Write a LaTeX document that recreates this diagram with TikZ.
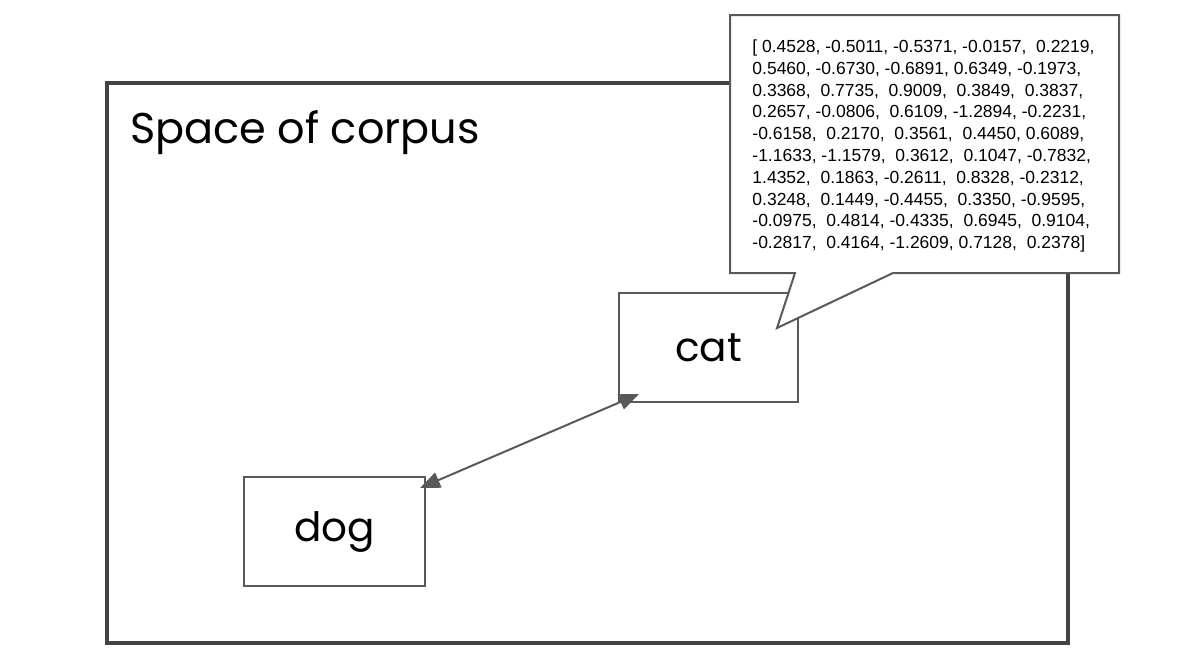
\documentclass[tikz,border=0pt]{standalone}
\usepackage{fontspec}
\setmainfont{Liberation Sans}
\newfontfamily\titlefont{Poppins}
\usetikzlibrary{arrows.meta,calc}
\definecolor{framec}{HTML}{434343}
\definecolor{boxc}{HTML}{595959}
\begin{document}
\begin{tikzpicture}[x=1pt,y=-1pt,
  wordbox/.style={draw=boxc,line width=2pt,inner sep=0pt,minimum height=109pt,
    font=\titlefont\fontsize{40.5}{48}\selectfont},
  link/.style={draw=boxc,line width=2pt,{Triangle[length=20pt,width=16pt]}-{Triangle[length=20pt,width=16pt]}},
  callout/.style={draw=boxc,fill=white,line width=2pt,line join=miter},
  vecbox/.style={inner sep=0pt,align=left,font=\fontsize{17.5}{21.8}\selectfont}]
\useasboundingbox (0,0) rectangle (1194,664);
\node[draw=framec,line width=4pt,minimum width=961pt,minimum height=560pt,inner sep=0pt] (frame) at (587.5,363) {};
\node[anchor=base west,inner sep=0pt,font=\titlefont\fontsize{43}{50}\selectfont] (title) at (130,143) {Space of corpus};
\node[wordbox,minimum width=179pt] (cat) at (708.5,347.5) {cat};
\node[wordbox,minimum width=181pt] (dog) at (334.5,531.5) {dog};
\draw[link] ($(dog.north east)+(-6,12)$) -- ($(cat.south west)+(21,-9)$);
\coordinate (cnw) at (730,15);
\coordinate (cne) at (1119,15);
\coordinate (cse) at (1119,273);
\coordinate (csw) at (730,273);
\coordinate (pr) at (893,273);
\coordinate (pl) at (795,273);
\coordinate (tip) at (777,328);
\draw[callout] (cnw) -- (cne) -- (cse) -- (pr) -- (tip) -- (pl) -- (csw) -- cycle;
\node[vecbox] (vec) at (923.5,146) {[ 0.4528, -0.5011, -0.5371, -0.0157,~ 0.2219,\\
0.5460, -0.6730, -0.6891, 0.6349, -0.1973,\\
0.3368,~ 0.7735,~ 0.9009,~ 0.3849,~ 0.3837,\\
0.2657, -0.0806,~ 0.6109, -1.2894, -0.2231,\\
-0.6158,~ 0.2170,~ 0.3561,~ 0.4450, 0.6089,\\
-1.1633, -1.1579,~ 0.3612,~ 0.1047, -0.7832,\\
1.4352,~ 0.1863, -0.2611,~ 0.8328, -0.2312,\\
0.3248,~ 0.1449, -0.4455,~ 0.3350, -0.9595,\\
-0.0975,~ 0.4814, -0.4335,~ 0.6945,~ 0.9104,\\
-0.2817,~ 0.4164, -1.2609, 0.7128,~ 0.2378]};
\end{tikzpicture}
\end{document}
